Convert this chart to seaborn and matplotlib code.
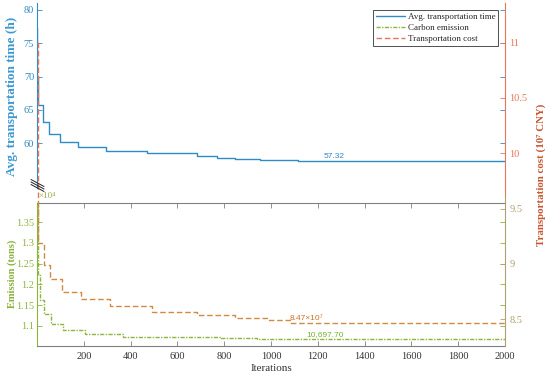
#! /usr/bin/env python3
'''
Convergence of avg. transportation time, carbon emission and transportation cost
'''

# imports
import matplotlib
matplotlib.use('Agg')
import matplotlib.pyplot as plt
from matplotlib.lines import Line2D
import pandas as pd
import seaborn as sns

# data (step change points, iteration -> value)
time_iter = [0, 2, 5, 27, 51, 98, 174, 295, 469, 682, 770, 846, 953, 1115, 2000]
time_vals = [77.3, 70.0, 65.7, 63.1, 61.4, 60.2, 59.4, 58.8, 58.45, 58.1, 57.8, 57.55, 57.4, 57.32, 57.32]

emis_iter = [0, 3, 13, 30, 58, 110, 205, 366, 575, 785, 940, 2000]
emis_vals = [13900, 12230, 11625, 11280, 11050, 10900, 10800, 10745, 10725, 10710, 10697.70, 10697.70]

cost_iter = [0, 5, 28, 57, 105, 187, 312, 490, 682, 846, 981, 1081, 2000]
cost_vals = [11.0, 9.19, 8.99, 8.86, 8.75, 8.68, 8.62, 8.57, 8.54, 8.51, 8.49, 8.47, 8.47]

x_ticks = [200, 400, 600, 800, 1000, 1200, 1400, 1600, 1800, 2000]
time_ticks = [60, 65, 70, 75, 80]
emis_ticks = [1.1, 1.15, 1.2, 1.25, 1.3, 1.35]
cost_ticks_top = [10, 10.5, 11]
cost_ticks_bot = [8.5, 9, 9.5]

# colours
BLUE = '#2f8bc6'
GREEN = '#8db53c'
RED = '#e8755a'
ORANGE = '#d08a45'
TAN = '#b0a070'
GRAY = '#808080'

# style
sns.set_theme(style='white')
plt.rcParams['font.family'] = ['Liberation Serif', 'DejaVu Serif']
plt.rcParams['xtick.direction'] = 'in'
plt.rcParams['ytick.direction'] = 'in'
SANS = ['Liberation Sans', 'DejaVu Sans']

df_time = pd.DataFrame({'it': time_iter, 'v': time_vals})
df_emis = pd.DataFrame({'it': emis_iter, 'v': [e / 1e4 for e in emis_vals]})
df_cost = pd.DataFrame({'it': cost_iter, 'v': cost_vals})

W, H = 550, 378
fig = plt.figure(figsize=(W / 100, H / 100), dpi=100)

def box(x0, y0, x1, y1):
    # pixel box (top-left origin) -> figure fraction rect
    return [x0 / W, 1 - y1 / H, (x1 - x0) / W, (y1 - y0) / H]

ax_top = fig.add_axes(box(37, 3, 505, 188))
ax_bot = fig.add_axes(box(37, 203, 505, 345.5))
ax_cu = fig.add_axes(box(37, 3, 505, 196))
ax_cl = fig.add_axes(box(37, 196, 505, 345.5))

# upper: avg. transportation time
sns.lineplot(data=df_time, x='it', y='v', ax=ax_top, color=BLUE, lw=1.0,
             drawstyle='steps-post', errorbar=None)
ax_top.set_xlim(0, 2000)
ax_top.set_ylim(53.25, 81.05)
ax_top.set_yticks(time_ticks)
ax_top.set_xticks([])
for s in ['top', 'bottom', 'right']:
    ax_top.spines[s].set_visible(False)
ax_top.spines['left'].set_color(BLUE)
ax_top.spines['left'].set_linewidth(0.8)
ax_top.tick_params(axis='y', which='both', left=True, right=True, colors=BLUE,
                   labelcolor=BLUE, length=3.5, width=0.6, labelsize=7.5, pad=2)
ax_top.set_xlabel('')
ax_top.set_ylabel('')
ax_top.annotate('57.32', xy=(1270, 57.32), xytext=(0, 1), textcoords='offset points',
                ha='center', va='bottom', color=BLUE, fontsize=6, family=SANS)

# lower: carbon emission
sns.lineplot(data=df_emis, x='it', y='v', ax=ax_bot, color=GREEN, lw=1.0,
             drawstyle='steps-post', errorbar=None, linestyle=(0, (3, 1, 1, 1)))
ax_bot.set_xlim(0, 2000)
ax_bot.set_ylim(1.0531, 1.3957)
ax_bot.set_yticks(emis_ticks)
ax_bot.set_yticklabels(['%g' % t for t in emis_ticks])
ax_bot.set_xticks(x_ticks)
ax_bot.spines['left'].set_color(GREEN)
for s in ['top', 'bottom']:
    ax_bot.spines[s].set_color(GRAY)
ax_bot.spines['right'].set_visible(False)
for s in ax_bot.spines.values():
    s.set_linewidth(0.8)
ax_bot.tick_params(axis='y', left=True, right=True, colors=GREEN, labelcolor=GREEN,
                   length=3.5, width=0.6, labelsize=7.5, pad=2)
ax_bot.tick_params(axis='x', top=True, bottom=True, colors=GRAY, labelcolor='#333333',
                   length=3.5, width=0.6, labelsize=7.5, pad=5)
ax_bot.set_xlabel('Iterations', fontsize=8, color='#333333', labelpad=2)
ax_bot.set_ylabel('')
ax_bot.annotate('10,697.70', xy=(1230, emis_vals[-1] / 1e4), xytext=(0, 0.5),
                textcoords='offset points', ha='center', va='bottom', color='#78b030',
                fontsize=6, family=SANS)

# right: transportation cost (split in two colour bands on one continuous scale)
for ax, ylim, ticks, col, lcol in [(ax_cu, (9.614, 11.358), cost_ticks_top, RED, RED),
                                   (ax_cl, (8.264, 9.614), cost_ticks_bot, TAN, ORANGE)]:
    sns.lineplot(data=df_cost, x='it', y='v', ax=ax, color=lcol, lw=1.0,
                 drawstyle='steps-post', errorbar=None, linestyle=(0, (4, 2)))
    ax.patch.set_visible(False)
    ax.set_xlim(0, 2000)
    ax.set_ylim(*ylim)
    ax.set_yticks(ticks)
    ax.set_yticklabels(['%g' % t for t in ticks])
    ax.set_xticks([])
    ax.set_xlabel('')
    ax.set_ylabel('')
    for s in ['top', 'bottom', 'left']:
        ax.spines[s].set_visible(False)
    ax.spines['right'].set_color(col)
    ax.spines['right'].set_linewidth(0.8)
    ax.yaxis.tick_right()
    ax.tick_params(axis='y', colors=col, labelcolor=col, length=3.5, width=0.6,
                   labelsize=7.5, pad=3)

ax_cl.annotate('8.47×10⁷', xy=(1152, 8.47), xytext=(0, 0.5), textcoords='offset points',
               ha='center', va='bottom', color='#cc7025', fontsize=6, family=SANS)

# axis labels
fig.text(12 / W, 1 - 96 / H, 'Avg. transportation time (h)', rotation=90, ha='center',
         va='center', color='#3b98d0', fontsize=9.5, fontweight='bold')
fig.text(12 / W, 1 - 274 / H, 'Emission (tons)', rotation=90, ha='center', va='center',
         color='#8ab23a', fontsize=7.5, fontweight='bold')
fig.text(541 / W, 1 - 175 / H, 'Transportation cost (10⁷ CNY)', rotation=90, ha='center',
         va='center', color='#c8552f', fontsize=7.8, fontweight='bold',
         family=['Liberation Serif', 'DejaVu Serif'])
fig.text(38 / W, 1 - 196 / H, '×10⁴', ha='left', va='center', color='#98a848', fontsize=6.5,
         family=['Liberation Serif', 'DejaVu Serif'])

# axis break marks
for dy in [-2.5, 0, 2.5]:
    fig.add_artist(Line2D([31 / W, 44 / W], [1 - (182 + dy) / H, 1 - (189 + dy) / H],
                          transform=fig.transFigure, color='#222222', lw=0.7))

# legend
handles = [Line2D([], [], color=BLUE, lw=1.0),
           Line2D([], [], color=GREEN, lw=1.0, linestyle=(0, (3, 1, 1, 1))),
           Line2D([], [], color=RED, lw=1.0, linestyle=(0, (4, 2)))]
leg = ax_cu.legend(handles, ['Avg. transportation time', 'Carbon emission', 'Transportation cost'],
                   loc='upper right', bbox_to_anchor=(0.985, 0.965), fontsize=6.5,
                   frameon=True, fancybox=False, framealpha=1, edgecolor='#333333',
                   handlelength=3.2, handletextpad=0.3, borderpad=0.3, labelspacing=0.3,
                   borderaxespad=0)
leg.get_frame().set_linewidth(0.6)

fig.savefig('out.png', dpi=100)
